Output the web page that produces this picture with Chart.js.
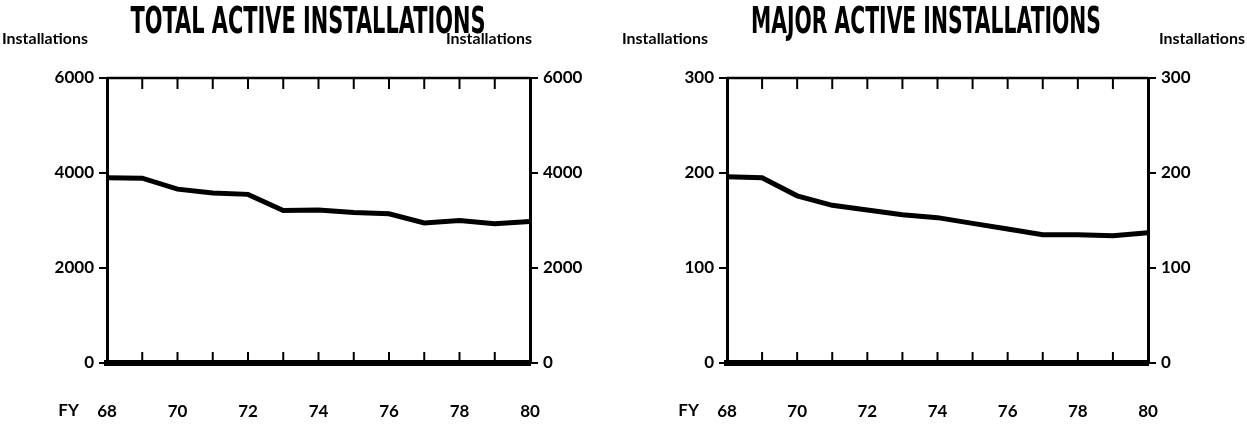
<!DOCTYPE html>
<html>
<head>
<meta charset="utf-8">
<script src="https://cdn.jsdelivr.net/npm/chart.js@4.4.1/dist/chart.umd.min.js"></script>
<style>
  html, body { margin: 0; padding: 0; background: #fff; }
  #wrap { position: relative; width: 1247px; height: 425px; }
  .pane { position: absolute; top: 0; height: 425px; }
</style>
</head>
<body>
<div id="wrap">
  <div class="pane" style="left:0;width:620px"><canvas id="c-total"></canvas></div>
  <div class="pane" style="left:620px;width:627px"><canvas id="c-major"></canvas></div>
</div>
<script>
/* Active installations FY68–FY80: total and major */

const years        = [68, 69, 70, 71, 72, 73, 74, 75, 76, 77, 78, 79, 80];
const totalActive  = [3900, 3890, 3660, 3580, 3550, 3210, 3220, 3170, 3140, 2950, 3000, 2930, 2980];
const majorActive  = [196, 195, 176, 166, 161, 156, 153, 147, 141, 135, 135, 134, 137];
const xTickLabels  = [68, 70, 72, 74, 76, 78, 80];
const totalTicks   = [0, 2000, 4000, 6000];
const majorTicks   = [0, 100, 200, 300];

const TICK_FONT = { family: 'Lato', size: 17, weight: 'bold' };

// draw text squeezed/stretched to a given width
function fitText(ctx, txt, x, y, w, font, align) {
  ctx.save();
  ctx.font = font;
  const m = ctx.measureText(txt).width;
  ctx.translate(x, y);
  ctx.scale(w / m, 1);
  ctx.textAlign = align || 'center';
  ctx.textBaseline = 'alphabetic';
  ctx.fillText(txt, 0, 0);
  ctx.restore();
}

const decor = {
  id: 'decor',
  afterDraw(chart, args, o) {
    const { ctx, chartArea: a, scales: { x } } = chart;
    ctx.save();
    ctx.strokeStyle = '#000';
    ctx.fillStyle = '#000';

    // top frame line
    ctx.lineWidth = 2.5;
    ctx.beginPath();
    ctx.moveTo(a.left, a.top);
    ctx.lineTo(a.right, a.top);
    ctx.stroke();

    // inward year ticks, top and bottom
    ctx.lineWidth = 2;
    years.slice(1, -1).forEach(v => {
      const px = x.getPixelForValue(v);
      ctx.beginPath();
      ctx.moveTo(px, a.top); ctx.lineTo(px, a.top + 11);
      ctx.moveTo(px, a.bottom); ctx.lineTo(px, a.bottom - 11);
      ctx.stroke();
    });

    // title
    fitText(ctx, o.title, o.titleX, 33, o.titleW, 'bold 38px "DejaVu Sans"');

    // axis captions
    fitText(ctx, 'Installations', 2, 44, 86, 'bold 16px Lato', 'left');
    fitText(ctx, 'Installations', o.rightCapX, 44, 86, 'bold 16px Lato', 'right');

    // FY
    ctx.font = 'bold 17px Lato';
    ctx.textAlign = 'right';
    ctx.textBaseline = 'middle';
    ctx.fillText('FY', a.left - 28, 411);
    ctx.restore();
  }
};

function buildChart(id, values, tickVals, rightW, opts) {
  const ctx = document.getElementById(id).getContext('2d');
  const yAxis = (pos, w) => ({
    position: pos,
    min: tickVals[0],
    max: tickVals[tickVals.length - 1],
    afterBuildTicks: s => { s.ticks = tickVals.map(v => ({ value: v })); },
    ticks: { font: TICK_FONT, color: '#000', padding: 5, callback: v => String(v) },
    grid: { drawOnChartArea: false, tickLength: 8, color: '#000', lineWidth: 2 },
    border: { width: 3, color: '#000' },
    afterFit: s => { s.width = w; }
  });

  return new Chart(ctx, {
    type: 'line',
    data: {
      datasets: [{
        data: years.map((yr, i) => ({ x: yr, y: values[i] })),
        borderColor: '#000',
        borderWidth: 5,
        pointRadius: 0,
        tension: 0,
        fill: false
      }]
    },
    options: {
      animation: false,
      responsive: true,
      maintainAspectRatio: false,
      layout: { padding: { top: 78, left: 0, right: 0, bottom: 0 } },
      plugins: { legend: { display: false }, tooltip: { enabled: false }, decor: opts },
      scales: {
        x: {
          type: 'linear',
          min: years[0],
          max: years[years.length - 1],
          afterBuildTicks: s => { s.ticks = xTickLabels.map(v => ({ value: v })); },
          ticks: { font: TICK_FONT, color: '#000', padding: 30, autoSkip: false, maxRotation: 0, callback: v => String(v) },
          grid: { display: false },
          border: { width: 6, color: '#000' },
          afterFit: s => { s.height = 62; }
        },
        y: yAxis('left', 107),
        y2: yAxis('right', rightW)
      }
    },
    plugins: [decor]
  });
}

buildChart('c-total', totalActive, totalTicks, 90,
  { title: 'TOTAL ACTIVE INSTALLATIONS', titleX: 308, titleW: 355, rightCapX: 532 });
buildChart('c-major', majorActive, majorTicks, 99,
  { title: 'MAJOR ACTIVE INSTALLATIONS', titleX: 306, titleW: 350, rightCapX: 625 });
</script>
</body>
</html>
